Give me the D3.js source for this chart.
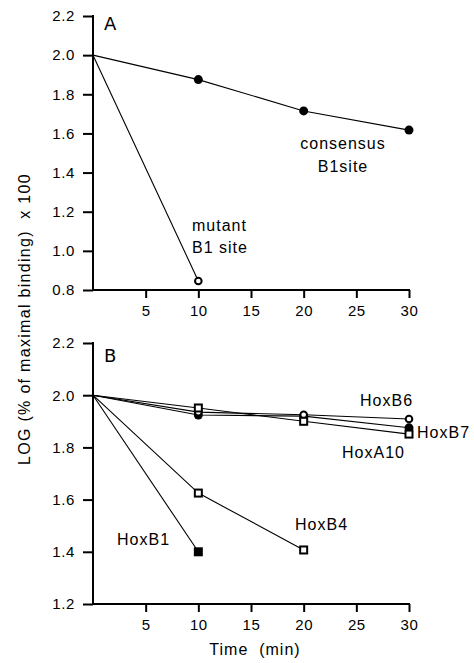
<!DOCTYPE html>
<html>
<head>
<meta charset="utf-8">
<style>
  body { margin: 0; background: #fff; }
  svg { font-family: "Liberation Sans", Arial, sans-serif; }
  .axis path, .axis line { stroke: #000; stroke-width: 2px; }
  .axis text { font-size: 15px; fill: #000; letter-spacing: 0.6px; font-family: "Liberation Sans", Arial, sans-serif; }
  .series { fill: none; stroke: #000; stroke-width: 1.1px; }
  .lbl { font-size: 16px; fill: #000; letter-spacing: 1px; }
</style>
</head>
<body>
<div id="chart"></div>
<script src="https://cdn.jsdelivr.net/npm/d3@7"></script>
<script>
  // ---- data ----
  var timeTicks = [5, 10, 15, 20, 25, 30];
  var yTicksA = [0.8, 1.0, 1.2, 1.4, 1.6, 1.8, 2.0, 2.2];
  var yTicksB = [1.2, 1.4, 1.6, 1.8, 2.0, 2.2];

  var consensusT = [0, 10, 20, 30];
  var consensusV = [2.0, 1.875, 1.715, 1.617];
  var mutantT = [0, 10];
  var mutantV = [2.0, 0.846];

  var hoxB1T = [0, 10];
  var hoxB1V = [2.0, 1.40];
  var hoxB4T = [0, 10, 20];
  var hoxB4V = [2.0, 1.625, 1.407];
  var hoxB6T = [0, 10, 20, 30];
  var hoxB6V = [2.0, 1.935, 1.925, 1.909];
  var hoxB7T = [0, 10, 20, 30];
  var hoxB7V = [2.0, 1.924, 1.92, 1.875];
  var hoxA10T = [0, 10, 20, 30];
  var hoxA10V = [2.0, 1.951, 1.90, 1.851];

  var W = 474, H = 663;
  var svg = d3.select("#chart").append("svg")
    .attr("width", W).attr("height", H);

  var x = d3.scaleLinear().domain([0, 30]).range([93, 409]);
  var yA = d3.scaleLinear().domain([0.8, 2.2]).range([290, 16]);
  var yB = d3.scaleLinear().domain([1.2, 2.2]).range([604, 343]);

  function zip(t, v) { return t.map(function (d, i) { return [d, v[i]]; }); }

  function drawAxes(y, ticks, yBottom) {
    var ax = svg.append("g").attr("class", "axis")
      .attr("transform", "translate(93,0)")
      .call(d3.axisLeft(y).tickValues(ticks).tickSize(10).tickPadding(8)
        .tickSizeOuter(0).tickFormat(d3.format(".1f")));
    ax.select(".domain").remove();
    ax.append("line").attr("x1", 0).attr("x2", 0)
      .attr("y1", y(2.2) - 1).attr("y2", yBottom + 1);

    var bx = svg.append("g").attr("class", "axis")
      .attr("transform", "translate(0," + yBottom + ")")
      .call(d3.axisBottom(x).tickValues(timeTicks).tickSize(8).tickPadding(7)
        .tickSizeOuter(0));
    bx.select(".domain").remove();
    bx.append("line").attr("x1", 92).attr("x2", x(30) + 1)
      .attr("y1", 0).attr("y2", 0);
  }

  function drawLine(y, t, v) {
    svg.append("path").attr("class", "series")
      .datum(zip(t, v))
      .attr("d", d3.line().x(function (d) { return x(d[0]); }).y(function (d) { return y(d[1]); }));
  }

  function drawMarks(y, t, v, kind) {
    var pts = zip(t, v).slice(1);
    var g = svg.append("g");
    pts.forEach(function (d) {
      var cx = x(d[0]), cy = y(d[1]);
      if (kind == "fillCircle") {
        g.append("circle").attr("cx", cx).attr("cy", cy).attr("r", 4.5).attr("fill", "#000");
      } else if (kind == "openCircle") {
        g.append("circle").attr("cx", cx).attr("cy", cy).attr("r", 3.3)
          .attr("fill", "#fff").attr("stroke", "#000").attr("stroke-width", 2);
      } else if (kind == "fillSquare") {
        g.append("rect").attr("x", cx - 4.5).attr("y", cy - 4.5).attr("width", 9).attr("height", 9)
          .attr("fill", "#000");
      } else if (kind == "openSquare") {
        g.append("rect").attr("x", cx - 3.5).attr("y", cy - 3.5).attr("width", 7).attr("height", 7)
          .attr("fill", "#fff").attr("stroke", "#000").attr("stroke-width", 2);
      }
    });
  }

  // ---- panel A ----
  drawAxes(yA, yTicksA, 290);
  drawLine(yA, consensusT, consensusV);
  drawLine(yA, mutantT, mutantV);
  drawMarks(yA, consensusT, consensusV, "fillCircle");
  drawMarks(yA, mutantT, mutantV, "openCircle");

  svg.append("text").attr("x", 104).attr("y", 30).attr("font-size", 18)
    .attr("font-family", "DejaVu Sans, sans-serif").text("A");
  svg.append("text").attr("class", "lbl").attr("x", 343).attr("y", 149)
    .attr("text-anchor", "middle").text("consensus");
  svg.append("text").attr("class", "lbl").attr("x", 343).attr("y", 172)
    .attr("text-anchor", "middle").text("B1site");
  svg.append("text").attr("class", "lbl").attr("x", 192).attr("y", 231).text("mutant");
  svg.append("text").attr("class", "lbl").attr("x", 192).attr("y", 253).text("B1 site");

  // ---- panel B ----
  drawAxes(yB, yTicksB, 604);
  drawLine(yB, hoxB1T, hoxB1V);
  drawLine(yB, hoxB4T, hoxB4V);
  drawLine(yB, hoxB6T, hoxB6V);
  drawLine(yB, hoxB7T, hoxB7V);
  drawLine(yB, hoxA10T, hoxA10V);
  drawMarks(yB, hoxB7T, hoxB7V, "fillCircle");
  drawMarks(yB, hoxB6T, hoxB6V, "openCircle");
  drawMarks(yB, hoxA10T, hoxA10V, "openSquare");
  drawMarks(yB, hoxB4T, hoxB4V, "openSquare");
  drawMarks(yB, hoxB1T, hoxB1V, "fillSquare");

  svg.append("text").attr("x", 104).attr("y", 362).attr("font-size", 18)
    .attr("font-family", "DejaVu Sans, sans-serif").text("B");
  svg.append("text").attr("class", "lbl").attr("x", 360).attr("y", 406).text("HoxB6");
  svg.append("text").attr("class", "lbl").attr("x", 417).attr("y", 438).text("HoxB7");
  svg.append("text").attr("class", "lbl").attr("x", 342).attr("y", 458).text("HoxA10");
  svg.append("text").attr("class", "lbl").attr("x", 295).attr("y", 530).text("HoxB4");
  svg.append("text").attr("class", "lbl").attr("x", 117).attr("y", 545).text("HoxB1");

  // axis titles
  svg.append("text").attr("class", "lbl").attr("x", 255).attr("y", 655)
    .attr("text-anchor", "middle").attr("xml:space", "preserve").text("Time  (min)");
  svg.append("text").attr("class", "lbl")
    .attr("transform", "translate(30,319) rotate(-90)")
    .attr("font-size", 17).style("letter-spacing", "1.3px")
    .attr("text-anchor", "middle").attr("xml:space", "preserve").text("LOG (% of maximal binding)  x 100");
</script>
</body>
</html>
